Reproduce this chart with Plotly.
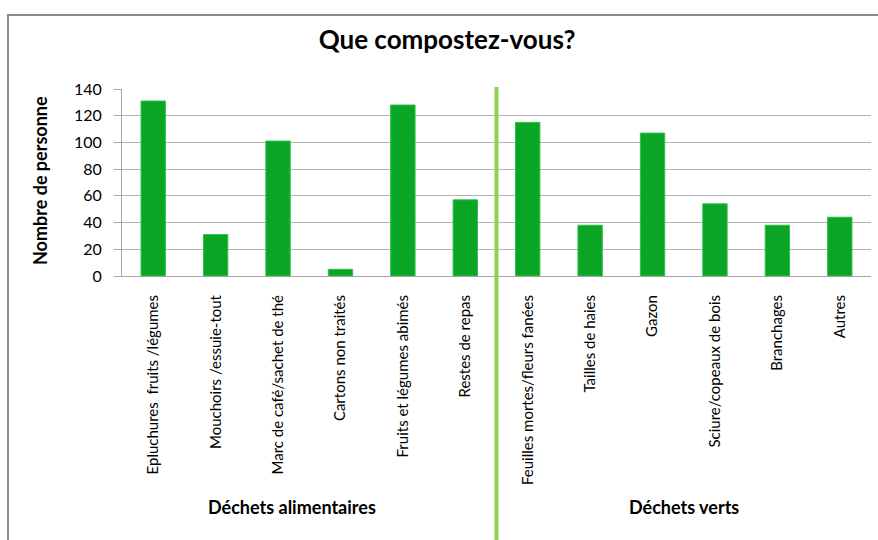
import plotly.graph_objects as go

categories = [
    "Epluchures  fruits /légumes", "Mouchoirs /essuie-tout", "Marc de café/sachet de thé",
    "Cartons non traités", "Fruits et légumes abimés", "Restes de repas",
    "Feuilles mortes/fleurs fanées", "Tailles de haies", "Gazon",
    "Sciure/copeaux de bois", "Branchages", "Autres",
]
counts = [131, 31, 101, 5, 128, 57, 115, 38, 107, 54, 38, 44]
groups = ["Déchets alimentaires", "Déchets verts"]
y_ticks = [0, 20, 40, 60, 80, 100, 120, 140]

W, H = 878, 540
L, R, T, B = 122, 7, 89, 264
pw, ph = W - L - R, H - T - B


def px_x(x):
    return (x - L) / pw


def px_y(y):
    return (H - B - y) / ph


fig = go.Figure()
fig.add_trace(go.Bar(x=categories, y=counts, marker_color="#0aa524",
                     marker_line=dict(color="#2cc04a", width=1), width=0.39))

# outer frame of the chart area
fig.add_shape(type="rect", xref="paper", yref="paper",
              x0=px_x(8), x1=px_x(W + 20), y0=px_y(H + 20), y1=px_y(15),
              line=dict(color="#8c8c8c", width=2), fillcolor="rgba(0,0,0,0)", layer="below")

# separator between the two groups
fig.add_shape(type="line", xref="x", yref="paper", x0=5.5, x1=5.5,
              y0=px_y(H + 5), y1=px_y(87), line=dict(color="#92d050", width=4))

font = "Lato, 'Open Sans', sans-serif"
fig.add_annotation(text="<b>Déchets alimentaires</b>", x=2.5, xref="x", xshift=-17,
                   y=px_y(520), yref="paper", showarrow=False,
                   font=dict(size=18, color="black", family=font))
fig.add_annotation(text="<b>Déchets verts</b>", x=8.5, xref="x",
                   y=px_y(520), yref="paper", showarrow=False,
                   font=dict(size=18, color="black", family=font))
fig.add_annotation(text="<b>Nombre de personne</b>", textangle=-90,
                   x=px_x(40), xref="paper", xanchor="center",
                   y=px_y(181), yref="paper", yanchor="middle", showarrow=False,
                   font=dict(size=18, color="black", family=font))

fig.update_layout(
    width=W, height=H, margin=dict(l=L, r=R, t=T, b=B),
    paper_bgcolor="white", plot_bgcolor="white", showlegend=False,
    font=dict(family=font, color="black"),
    title=dict(text="<b>Que compostez-vous?</b>", x=447 / W, xanchor="center",
               y=1 - 40 / H, yanchor="middle", font=dict(size=26, family=font)),
    xaxis=dict(tickangle=-90, tickfont=dict(size=15), showline=True,
               linecolor="#a6a6a6", linewidth=1, ticks="", ticklabelstandoff=12,
               range=[-0.5, 11.5], automargin=False),
    yaxis=dict(range=[0, 140], tickvals=y_ticks, tickfont=dict(size=16),
               showgrid=True, gridcolor="#b3b3b3", gridwidth=1,
               showline=True, linecolor="#a6a6a6", ticks="outside", ticklen=7,
               tickcolor="#a6a6a6", zeroline=False, ticklabelstandoff=9,
               automargin=False),
)

fig.write_html("out.html", config={"displayModeBar": False},
               post_script="document.body.style.margin='0';")
